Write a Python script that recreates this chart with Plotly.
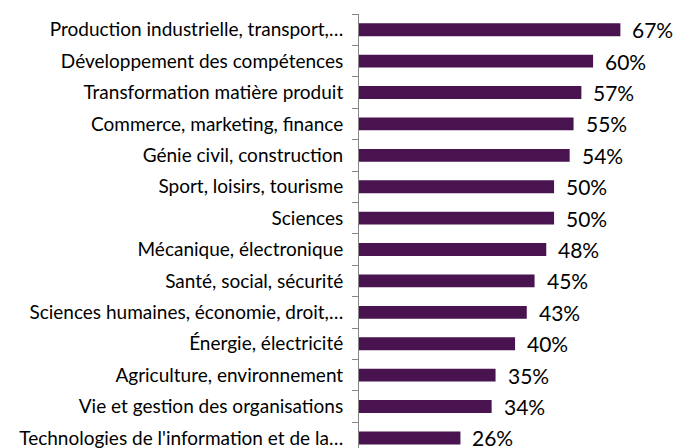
import plotly.graph_objects as go

categories = [
    "Production industrielle, transport,…",
    "Développement des compétences",
    "Transformation matière produit",
    "Commerce, marketing, finance",
    "Génie civil, construction",
    "Sport, loisirs, tourisme",
    "Sciences",
    "Mécanique, électronique",
    "Santé, social, sécurité",
    "Sciences humaines, économie, droit,…",
    "Énergie, électricité",
    "Agriculture, environnement",
    "Vie et gestion des organisations",
    "Technologies de l'information et de la…",
]
values = [67, 60, 57, 55, 54, 50, 50, 48, 45, 43, 40, 35, 34, 26]
value_labels = [f"{v}%" for v in values]

BAR = "#48134f"
FONT = "Lato, Carlito, Calibri, sans-serif"

fig = go.Figure()
fig.add_trace(go.Bar(
    x=values, y=categories, orientation="h",
    marker=dict(color=BAR, line=dict(width=0)),
    hoverinfo="skip",
))

for c, v, t in zip(categories, values, value_labels):
    fig.add_annotation(x=v, y=c, text=t, showarrow=False, xanchor="left",
                       xshift=10, yshift=0, font=dict(size=21, color="#000000", family=FONT))

# page body has an 8px default margin, so the figure is sized 8px smaller
fig.update_layout(
    width=683, height=440,
    margin=dict(l=351, r=0, t=6, b=0, autoexpand=False),
    paper_bgcolor="white", plot_bgcolor="white",
    bargap=0.59,
    showlegend=False,
    font=dict(family=FONT, color="#000000"),
)
fig.update_xaxes(range=[0, 85.1], visible=False, fixedrange=True, automargin=False)
fig.update_yaxes(
    type="category",
    categoryorder="array", categoryarray=categories,
    range=[13.32, -0.5],
    showline=True, linecolor="#868686", linewidth=1,
    ticks="outside", tickson="boundaries", ticklen=6, tickcolor="#868686",
    tickfont=dict(size=19, color="#000000", family=FONT),
    ticklabelstandoff=11,
    showgrid=False, zeroline=False, fixedrange=True, automargin=False,
)

fig.write_html("out.html")
